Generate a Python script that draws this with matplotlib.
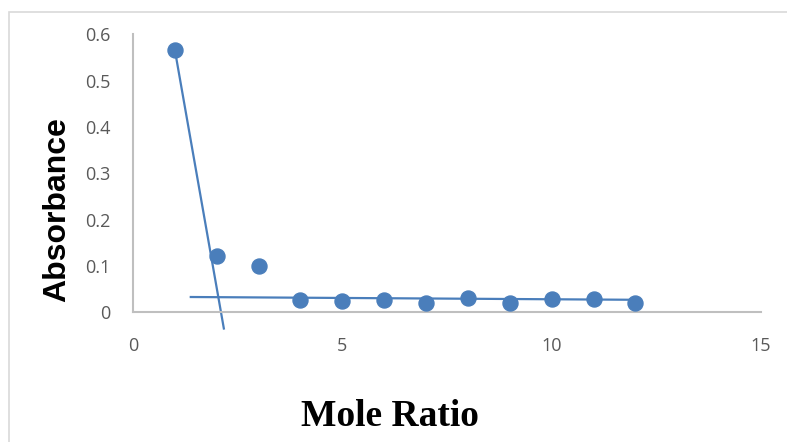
import matplotlib
matplotlib.use("Agg")
import matplotlib.pyplot as plt
from matplotlib.patches import Rectangle

# Data
mole_ratio = [1, 2, 3, 4, 5, 6, 7, 8, 9, 10, 11, 12]
absorbance = [0.566, 0.121, 0.100, 0.026, 0.024, 0.026, 0.019, 0.030, 0.019, 0.028, 0.028, 0.019]

# Trend lines (start/end x and the absorbance values at those ends)
trend1_x = [1.0, 2.17]
trend1_y = [0.566, -0.035]
trend2_x = [1.38, 12.0]
trend2_y = [0.033, 0.027]

x_ticks = [0, 5, 10, 15]
y_ticks = [0, 0.1, 0.2, 0.3, 0.4, 0.5, 0.6]
y_tick_labels = ["0", "0.1", "0.2", "0.3", "0.4", "0.5", "0.6"]

blue = "#4a7ebb"
grey_text = "#595959"
spine_col = "#bfbfbf"

fig = plt.figure(figsize=(7.87, 4.42), dpi=100)
fig.patches.append(Rectangle((9 / 787, -0.1), 1.2, 1 - 12 / 442 + 0.1,
                             transform=fig.transFigure, fill=False,
                             edgecolor="#d9d9d9", linewidth=1.2))

ax = fig.add_axes([133 / 787, 1 - 312.3 / 442, (761 - 133) / 787, (312.3 - 34.3) / 442])

ax.plot(trend1_x, trend1_y, color=blue, linewidth=1.6, clip_on=False, zorder=2)
ax.plot(trend2_x, trend2_y, color=blue, linewidth=1.6, clip_on=False, zorder=2)
ax.plot(mole_ratio, absorbance, linestyle="none", marker="o", markersize=10.8,
        color=blue, clip_on=False, zorder=3)

ax.set_xlim(0, 15)
ax.set_ylim(0, 0.6)
ax.set_xticks(x_ticks)
ax.set_yticks(y_ticks)
ax.set_yticklabels(y_tick_labels)

for s in ["top", "right"]:
    ax.spines[s].set_visible(False)
for s in ["left", "bottom"]:
    ax.spines[s].set_color(spine_col)
    ax.spines[s].set_linewidth(1.5)

ax.tick_params(axis="both", length=0, labelsize=13, labelcolor=grey_text)
ax.tick_params(axis="y", pad=16)
ax.tick_params(axis="x", pad=18)
for lab in ax.get_xticklabels() + ax.get_yticklabels():
    lab.set_family("Open Sans")

fig.text(57 / 787, 1 - 210 / 442, "Absorbance", rotation=90, ha="center", va="center",
         fontsize=23, fontweight="bold", family="Liberation Sans", color="black")
fig.text(390 / 787, 1 - 417 / 442, "Mole Ratio", ha="center", va="center",
         fontsize=27, fontweight="bold", family="Liberation Serif", color="black")

fig.savefig("out.png", dpi=100)
